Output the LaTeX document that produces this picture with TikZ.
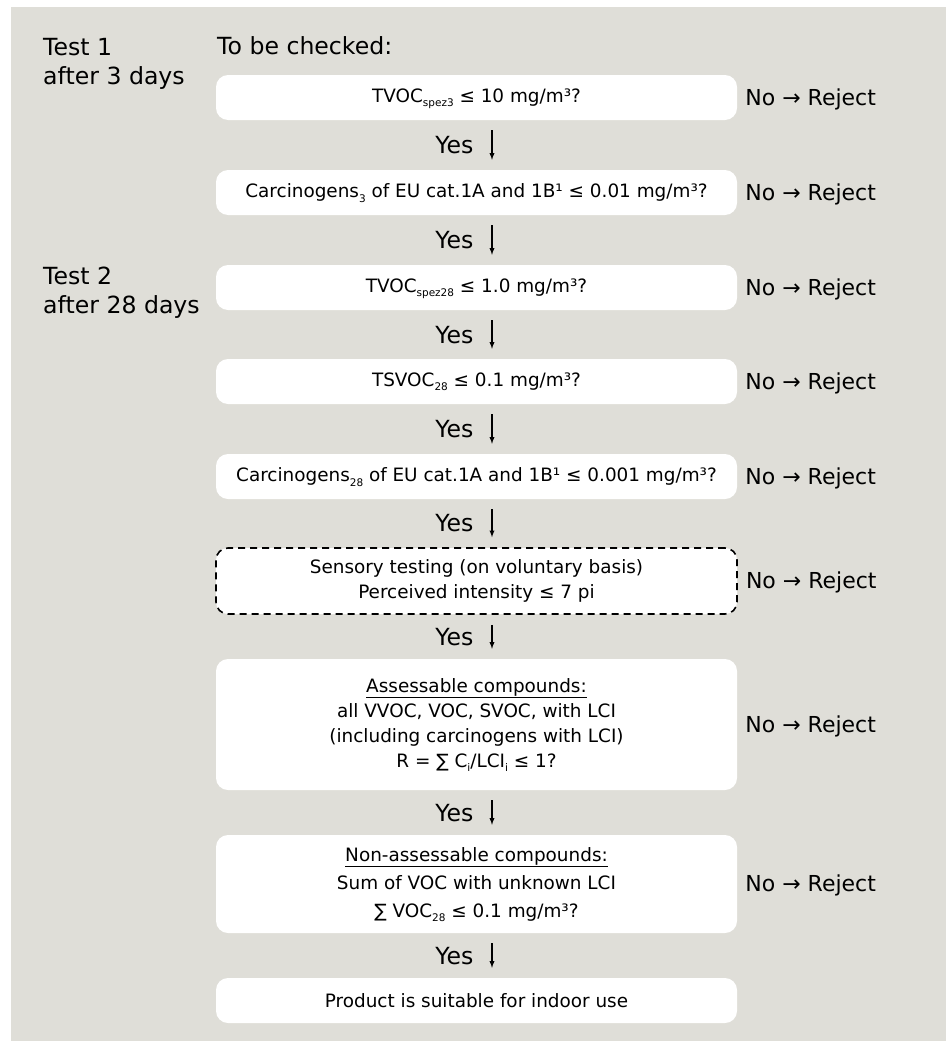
\documentclass[tikz,border=0pt]{standalone}
\usepackage{fontspec}
\setmainfont{DejaVu Sans}
\usetikzlibrary{arrows, positioning}

\definecolor{panelgray}{HTML}{DFDED8}
\newcommand{\lowsub}[1]{\smash{\raisebox{-4.5pt}{\fontsize{10.5}{10}\selectfont #1}}}

\tikzset{
	checkbox/.style={fill=white, rounded corners=12pt, minimum width=521pt, inner sep=0pt, align=center, font=\fontsize{18.4}{25}\selectfont},
	optbox/.style={checkbox, draw=black, line width=1.6pt, dash pattern=on 7pt off 5pt},
	rejectlabel/.style={inner sep=0pt, text height=15.5pt, text depth=0pt, font=\fontsize{22}{25}\selectfont},
	yeslabel/.style={inner sep=0pt, text height=17pt, text depth=0pt, font=\fontsize{23.6}{29}\selectfont},
	yesarrow/.style={->, >=latex, line width=1.3pt},
	testlabel/.style={inner sep=0pt, align=left, anchor=north west, font=\fontsize{23.6}{29}\selectfont}
}

\begin{document}
\begin{tikzpicture}[x=1pt, y=-1pt]
			\useasboundingbox (0,0) rectangle (946,1041);
			% Panel
			\fill[panelgray] (11,7) rectangle (946,1041);
			% Test periods
			\node[testlabel] (test1) at (43,38) {Test 1\\after 3 days};
			\node[testlabel] (test2) at (43,267) {Test 2\\after 28 days};
			\node[testlabel, anchor=base west] (check) at (217,55) {To be checked:};
			% Criteria
			\node[checkbox, minimum height=45pt] (b1) at (476.5,97.5) {TVOC\lowsub{spez3} ≤ 10 mg/m³?};
			\node[checkbox, minimum height=45pt] (b2) at (476.5,192.5) {Carcinogens\lowsub{3} of EU cat.1A and 1B¹ ≤ 0.01 mg/m³?};
			\node[checkbox, minimum height=45pt] (b3) at (476.5,287.5) {TVOC\lowsub{spez28} ≤ 1.0 mg/m³?};
			\node[checkbox, minimum height=45pt] (b4) at (476.5,381.5) {TSVOC\lowsub{28} ≤ 0.1 mg/m³?};
			\node[checkbox, minimum height=45pt] (b5) at (476.5,476.5) {Carcinogens\lowsub{28} of EU cat.1A and 1B¹ ≤ 0.001 mg/m³?};
			\node[optbox, minimum height=66pt] (b6) at (476.5,581) {Sensory testing (on voluntary basis)\\Perceived intensity ≤ 7 pi};
			\node[checkbox, minimum height=131pt] (b7) at (476.5,724.5) {\underline{Assessable compounds:}\\all VVOC, VOC, SVOC, with LCI\\(including carcinogens with LCI)\\R = ∑ C\lowsub{i}/LCI\lowsub{i} ≤ 1?};
			\node[checkbox, minimum height=98pt, font=\fontsize{18.4}{28}\selectfont] (b8) at (476.5,884) {\underline{Non-assessable compounds:}\\Sum of VOC with unknown LCI\\∑ VOC\lowsub{28} ≤ 0.1 mg/m³?};
			\node[checkbox, minimum height=45pt] (b9) at (476.5,1000.5) {Product is suitable for indoor use};
			% Rejections
			\node[rejectlabel, right=8pt of b1] (r1) {No → Reject};
			\node[rejectlabel, right=8pt of b2] (r2) {No → Reject};
			\node[rejectlabel, right=8pt of b3] (r3) {No → Reject};
			\node[rejectlabel, right=8pt of b4] (r4) {No → Reject};
			\node[rejectlabel, right=8pt of b5] (r5) {No → Reject};
			\node[rejectlabel, right=8pt of b6] (r6) {No → Reject};
			\node[rejectlabel, right=8pt of b7] (r7) {No → Reject};
			\node[rejectlabel, right=8pt of b8] (r8) {No → Reject};
			% Yes arrows
			\draw[yesarrow] ([xshift=15.5pt,yshift=-10pt]b1.south) -- ([xshift=15.5pt,yshift=10pt]b2.north) node[yeslabel, midway, left=18pt] (y1) {Yes};
			\draw[yesarrow] ([xshift=15.5pt,yshift=-10pt]b2.south) -- ([xshift=15.5pt,yshift=10pt]b3.north) node[yeslabel, midway, left=18pt] (y2) {Yes};
			\draw[yesarrow] ([xshift=15.5pt,yshift=-10pt]b3.south) -- ([xshift=15.5pt,yshift=10pt]b4.north) node[yeslabel, midway, left=18pt] (y3) {Yes};
			\draw[yesarrow] ([xshift=15.5pt,yshift=-10pt]b4.south) -- ([xshift=15.5pt,yshift=10pt]b5.north) node[yeslabel, midway, left=18pt] (y4) {Yes};
			\draw[yesarrow] ([xshift=15.5pt,yshift=-10pt]b5.south) -- ([xshift=15.5pt,yshift=10pt]b6.north) node[yeslabel, midway, left=18pt] (y5) {Yes};
			\draw[yesarrow] ([xshift=15.5pt,yshift=-10pt]b6.south) -- ([xshift=15.5pt,yshift=10pt]b7.north) node[yeslabel, midway, left=18pt] (y6) {Yes};
			\draw[yesarrow] ([xshift=15.5pt,yshift=-10pt]b7.south) -- ([xshift=15.5pt,yshift=10pt]b8.north) node[yeslabel, midway, left=18pt] (y7) {Yes};
			\draw[yesarrow] ([xshift=15.5pt,yshift=-10pt]b8.south) -- ([xshift=15.5pt,yshift=10pt]b9.north) node[yeslabel, midway, left=18pt] (y8) {Yes};
		\end{tikzpicture}
\end{document}
